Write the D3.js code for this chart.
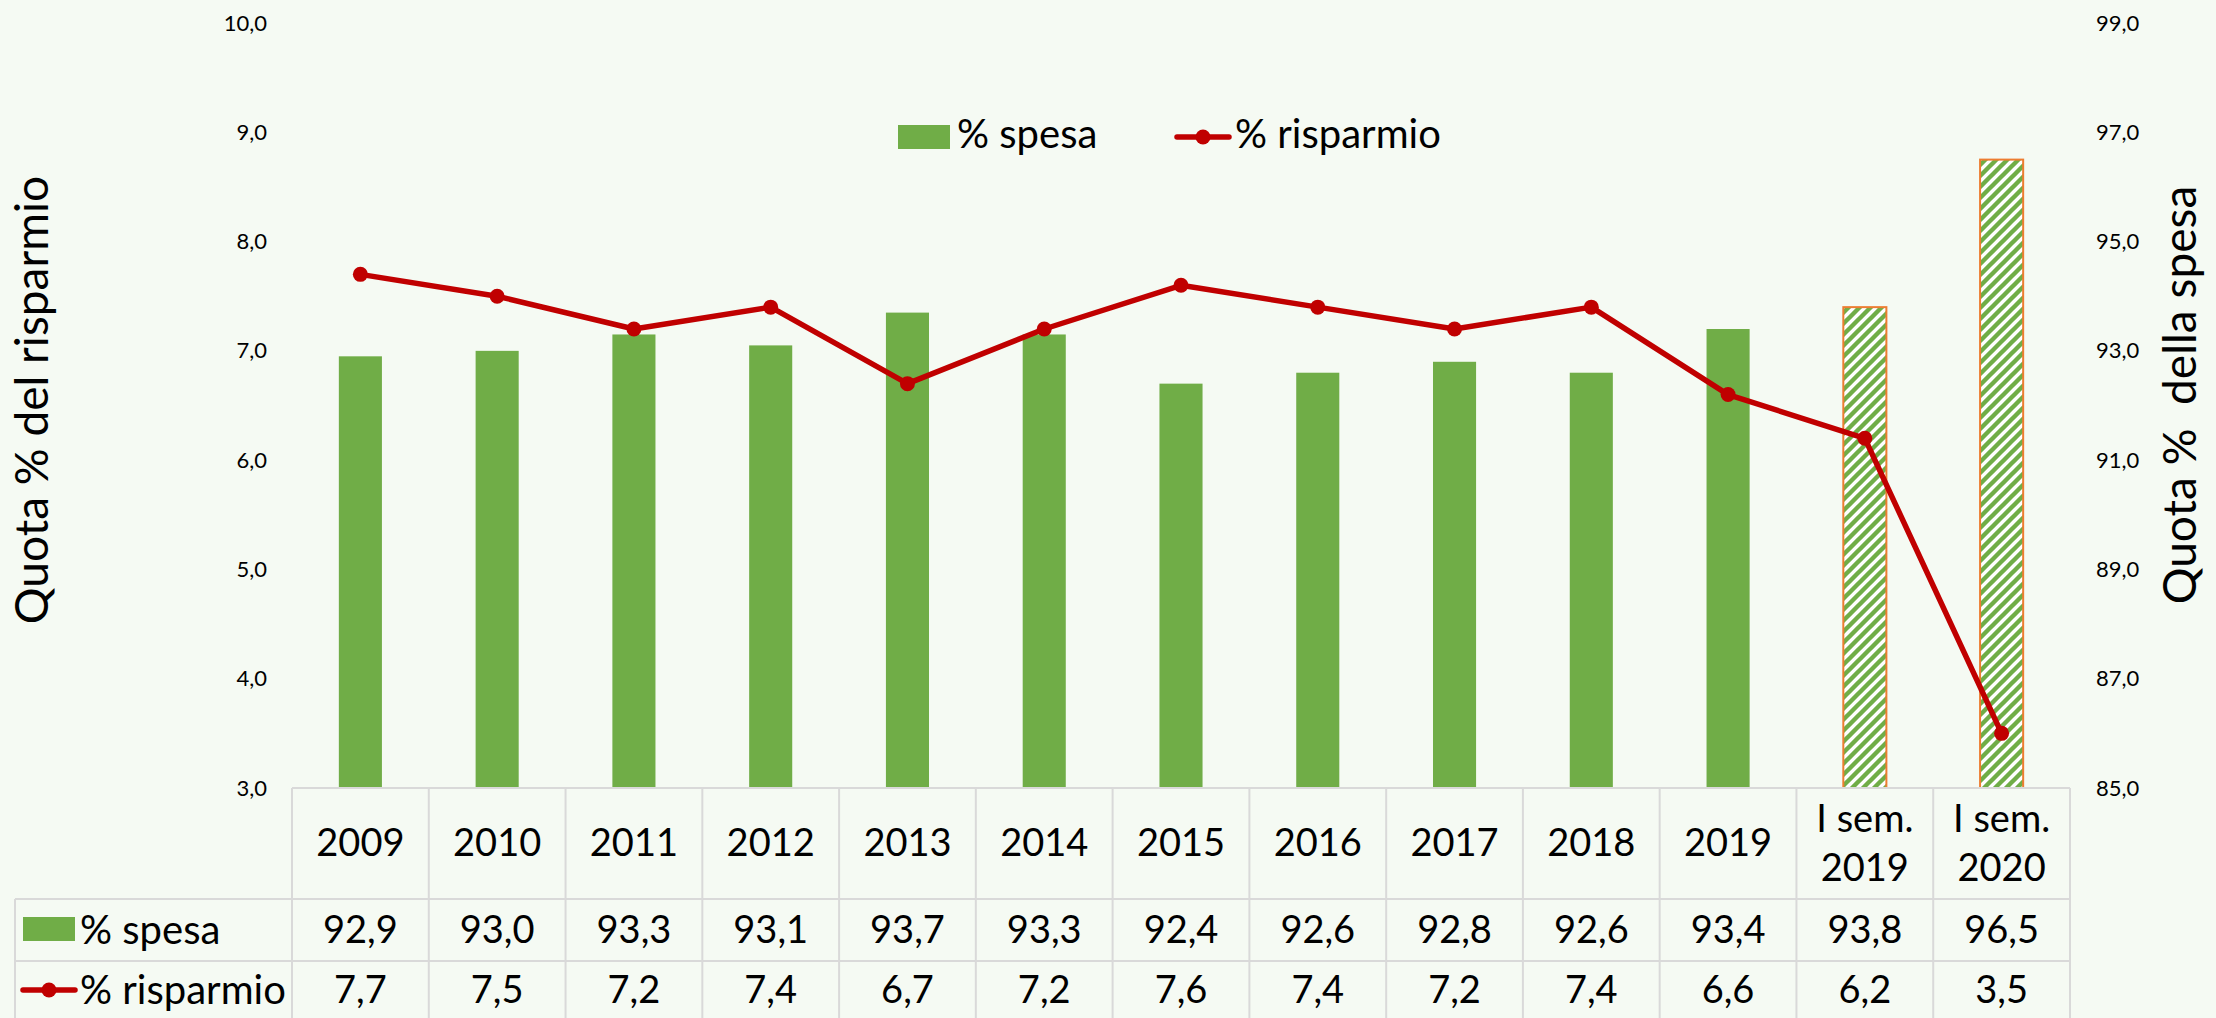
<!DOCTYPE html>
<html>
<head>
<meta charset="utf-8">
<script src="https://cdn.jsdelivr.net/npm/d3@7"></script>
<style>
  body { margin: 0; background: #F5FAF3; }
  text { font-family: Lato, "Open Sans", sans-serif; fill: #000; }
</style>
</head>
<body>
<svg id="svg" width="2216" height="1018"></svg>
<script>
// Data
var categories = ["2009", "2010", "2011", "2012", "2013", "2014", "2015", "2016", "2017", "2018", "2019", "I sem. 2019", "I sem. 2020"]
var spesa = [92.9, 93.0, 93.3, 93.1, 93.7, 93.3, 92.4, 92.6, 92.8, 92.6, 93.4, 93.8, 96.5]
var risparmio = [7.7, 7.5, 7.2, 7.4, 6.7, 7.2, 7.6, 7.4, 7.2, 7.4, 6.6, 6.2, 3.5]
var leftTicks = [3, 4, 5, 6, 7, 8, 9, 10]
var rightTicks = [85, 87, 89, 91, 93, 95, 97, 99]

var GREEN = "#70AD47", RED = "#C00000", ORANGE = "#ED7D31", GRID = "#D9D9D9"

let svg = d3.select("#svg");

svg.append("rect").attr("width", 2216).attr("height", 1018).attr("fill", "#F5FAF3");

const plotTop = 23, plotBottom = 788, tableLeft = 15, catLeft = 292, tableRight = 2070;
const rowHeader = 899, rowSpesa = 961, rowEnd = 1023;

let x = d3.scaleBand().domain(categories).range([catLeft, tableRight]).padding(0);
let yL = d3.scaleLinear().domain([3, 10]).range([plotBottom, plotTop]);
let yR = d3.scaleLinear().domain([85, 99]).range([plotBottom, plotTop]);

let fmt = v => d3.format(".1f")(v).replace(".", ",");
let isSem = c => c.indexOf("I sem.") === 0;

// hatch pattern for the half-year bars
let defs = svg.append("defs");
let pat = defs.append("pattern").attr("id", "hatch")
  .attr("patternUnits", "userSpaceOnUse").attr("width", 11).attr("height", 11);
pat.append("rect").attr("width", 11).attr("height", 11).attr("fill", "#fff");
pat.append("path").attr("d", "M-2,2 L2,-2 M0,11 L11,0 M9,13 L13,9")
  .attr("stroke", GREEN).attr("stroke-width", 4.4);

// axes
let gl = svg.append("g").attr("transform", "translate(267,0)")
  .call(d3.axisLeft(yL).tickValues(leftTicks).tickSize(0).tickPadding(0).tickFormat(fmt));
gl.select(".domain").remove();
gl.selectAll("text").style("font-size", "22px").style("font-family", "Lato");

let gr = svg.append("g").attr("transform", "translate(2096,0)")
  .call(d3.axisRight(yR).tickValues(rightTicks).tickSize(0).tickPadding(0).tickFormat(fmt));
gr.select(".domain").remove();
gr.selectAll("text").style("font-size", "22px").style("font-family", "Lato");

// axis titles
svg.append("text").attr("transform", "translate(48,400)rotate(-90)")
  .attr("text-anchor", "middle").style("font-size", "46px").text("Quota % del risparmio");
svg.append("text").attr("transform", "translate(2196,395)rotate(-90)")
  .attr("text-anchor", "middle").style("font-size", "46px").style("white-space", "pre")
  .text("Quota %  della spesa");

// bars
let bw = x.bandwidth() * 0.315;
svg.append("g").selectAll("rect")
  .data(categories)
  .enter().append("rect")
  .attr("x", d => x(d) + (x.bandwidth() - bw) / 2)
  .attr("y", (d, i) => yR(spesa[i]))
  .attr("width", bw)
  .attr("height", (d, i) => plotBottom - yR(spesa[i]))
  .attr("fill", d => isSem(d) ? "url(#hatch)" : GREEN)
  .attr("stroke", d => isSem(d) ? ORANGE : "none")
  .attr("stroke-width", 2);

// line
let line = d3.line()
  .x((d, i) => x(categories[i]) + x.bandwidth() / 2)
  .y(d => yL(d));
svg.append("path").datum(risparmio)
  .attr("d", line).attr("fill", "none").attr("stroke", RED).attr("stroke-width", 5.5)
  .attr("stroke-linejoin", "round");
svg.append("g").selectAll("circle")
  .data(risparmio)
  .enter().append("circle")
  .attr("cx", (d, i) => x(categories[i]) + x.bandwidth() / 2)
  .attr("cy", d => yL(d))
  .attr("r", 7.5).attr("fill", RED);

// legend
let legend = svg.append("g");
legend.append("rect").attr("x", 898).attr("y", 125).attr("width", 52).attr("height", 24).attr("fill", GREEN);
legend.append("text").attr("x", 957).attr("y", 148).style("font-size", "40px").text("% spesa");
legend.append("line").attr("x1", 1177).attr("x2", 1229).attr("y1", 137).attr("y2", 137)
  .attr("stroke", RED).attr("stroke-width", 5.5).attr("stroke-linecap", "round");
legend.append("circle").attr("cx", 1203).attr("cy", 137).attr("r", 7.5).attr("fill", RED);
legend.append("text").attr("x", 1235).attr("y", 148).style("font-size", "40px").text("% risparmio");

// data table
let table = svg.append("g");
let hline = (y, x1) => table.append("line").attr("x1", x1).attr("x2", tableRight)
  .attr("y1", y).attr("y2", y).attr("stroke", GRID).attr("stroke-width", 2);
hline(plotBottom, catLeft);
hline(rowHeader, tableLeft);
hline(rowSpesa, tableLeft);
hline(rowEnd, tableLeft);
table.append("line").attr("x1", tableLeft).attr("x2", tableLeft).attr("y1", rowHeader).attr("y2", rowEnd)
  .attr("stroke", GRID).attr("stroke-width", 2);
table.selectAll(".vline")
  .data(categories.concat(["end"]))
  .enter().append("line")
  .attr("class", "vline")
  .attr("x1", (d, i) => catLeft + i * x.bandwidth())
  .attr("x2", (d, i) => catLeft + i * x.bandwidth())
  .attr("y1", plotBottom).attr("y2", rowEnd)
  .attr("stroke", GRID).attr("stroke-width", 2);

// header labels
categories.forEach(c => {
  let cx = x(c) + x.bandwidth() / 2;
  if (isSem(c)) {
    let parts = ["I sem.", c.replace("I sem. ", "")];
    parts.forEach((p, j) => {
      table.append("text").attr("x", cx).attr("y", 819 + j * 49).attr("dy", "0.35em")
        .attr("text-anchor", "middle").style("font-size", "38px").text(p);
    });
  } else {
    table.append("text").attr("x", cx).attr("y", 843).attr("dy", "0.35em")
      .attr("text-anchor", "middle").style("font-size", "38px").text(c);
  }
});

// value rows
table.selectAll(".vspesa").data(spesa).enter().append("text")
  .attr("x", (d, i) => x(categories[i]) + x.bandwidth() / 2)
  .attr("y", 930).attr("dy", "0.35em").attr("text-anchor", "middle")
  .style("font-size", "38px").text(d => fmt(d));
table.selectAll(".vris").data(risparmio).enter().append("text")
  .attr("x", (d, i) => x(categories[i]) + x.bandwidth() / 2)
  .attr("y", 990).attr("dy", "0.35em").attr("text-anchor", "middle")
  .style("font-size", "38px").text(d => fmt(d));

// row labels
table.append("rect").attr("x", 23).attr("y", 917).attr("width", 52).attr("height", 24).attr("fill", GREEN);
table.append("text").attr("x", 80).attr("y", 930).attr("dy", "0.35em").style("font-size", "40px").text("% spesa");
table.append("line").attr("x1", 23).attr("x2", 75).attr("y1", 990).attr("y2", 990)
  .attr("stroke", RED).attr("stroke-width", 5.5).attr("stroke-linecap", "round");
table.append("circle").attr("cx", 49).attr("cy", 990).attr("r", 7.5).attr("fill", RED);
table.append("text").attr("x", 80).attr("y", 990).attr("dy", "0.35em").style("font-size", "40px").text("% risparmio");
</script>
</body>
</html>
